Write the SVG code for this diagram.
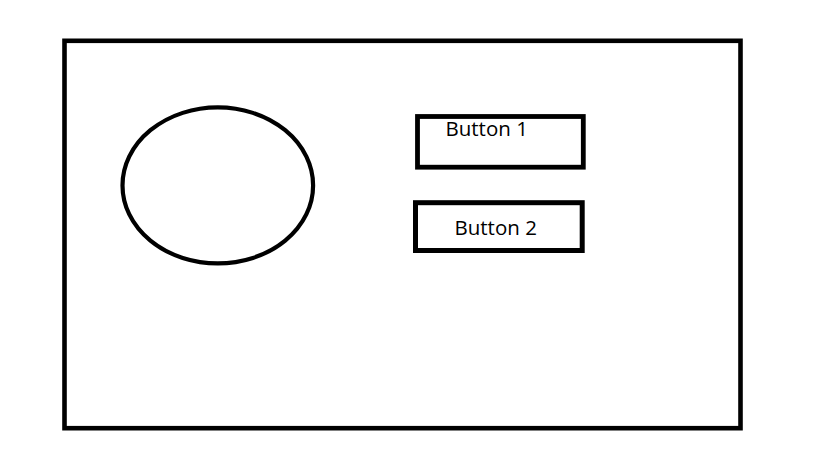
<svg xmlns="http://www.w3.org/2000/svg" width="819" height="460" viewBox="0 0 819 460">
<style>
.s{fill:none;stroke:#000;}
.t{font-family:"Open Sans","Noto Sans","Liberation Sans",sans-serif;font-size:20.5px;fill:#000;}
</style>
<rect width="819" height="460" fill="#fff"/>
<g id="frame"><rect class="s" x="64.5" y="40.8" width="676" height="387.4" stroke-width="4.6"/></g>
<g id="circle"><ellipse class="s" cx="217.8" cy="185.4" rx="95.3" ry="78" stroke-width="4.2"/></g>
<g id="button1"><rect class="s" x="417.5" y="116.5" width="165.8" height="50.7" stroke-width="4.8"/><text class="t" x="445.5" y="136">Button 1</text></g>
<g id="button2"><rect class="s" x="415.5" y="202.7" width="166.7" height="47.8" stroke-width="5"/><text class="t" x="454.5" y="235">Button 2</text></g>
<g id="connectors"/>
</svg>
